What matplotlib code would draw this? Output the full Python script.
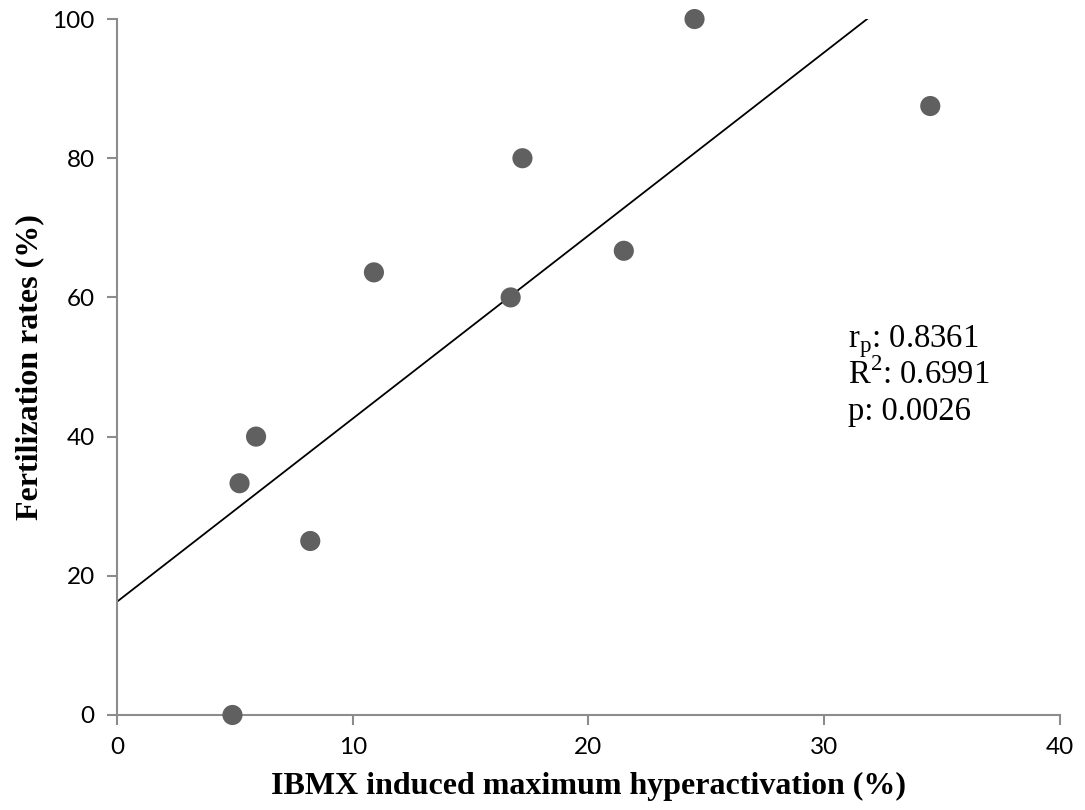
import numpy as np
import matplotlib.pyplot as plt

# IBMX induced maximum hyperactivation (%) vs fertilization rate (%)
hyperactivation = [4.9, 5.2, 5.9, 8.2, 10.9, 16.7, 17.2, 21.5, 24.5, 34.5]
fertilization = [0.0, 33.3, 40.0, 25.0, 63.6, 60.0, 80.0, 66.7, 100.0, 87.5]
stats_lines = [r"r$_\mathrm{p}$: 0.8361", r"R$^\mathrm{2}$: 0.6991", "p: 0.0026"]

plt.rcParams['mathtext.fontset'] = 'custom'
plt.rcParams['mathtext.rm'] = 'Liberation Serif'

fig = plt.figure(figsize=(10.85, 8.1), dpi=100)
ax = fig.add_axes([0.1078, 0.1173, 0.8691, 0.8592])

x = np.array(hyperactivation)
y = np.array(fertilization)
slope, intercept = np.polyfit(x, y, 1)
xs = np.array([0, 40])
ax.plot(xs, intercept + slope * xs, color='black', lw=1.3, zorder=2)
ax.scatter(x, y, s=210, color='#606060', zorder=3, clip_on=False, edgecolors='none')

ax.set_xlim(0, 40)
ax.set_ylim(0, 100)
ax.set_xticks([0, 10, 20, 30, 40])
ax.set_yticks([0, 20, 40, 60, 80, 100])

for side in ['top', 'right']:
    ax.spines[side].set_visible(False)
for side in ['left', 'bottom']:
    ax.spines[side].set_color('#8c8c8c')
    ax.spines[side].set_linewidth(1.5)
ax.tick_params(colors='#8c8c8c', width=1.5, length=7, labelcolor='black',
               labelsize=17.5, pad=9)
for lab in ax.get_xticklabels() + ax.get_yticklabels():
    lab.set_family('Lato')

ax.set_xlabel('IBMX induced maximum hyperactivation (%)', family='Liberation Serif',
              fontweight='bold', fontsize=23, labelpad=10)
ax.set_ylabel('Fertilization rates (%)', family='Liberation Serif',
              fontweight='bold', fontsize=23, labelpad=6)

for i, line in enumerate(stats_lines):
    ax.text(31.0, 52.8 - i * 5.2, line, family='Liberation Serif', fontsize=23.5,
            va='baseline', ha='left')

fig.savefig('out.png', dpi=100)
